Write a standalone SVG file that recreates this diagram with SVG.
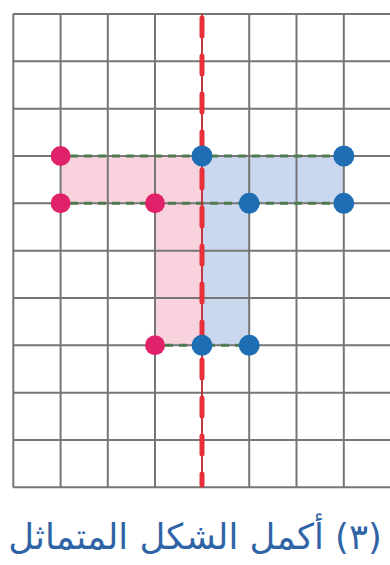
<svg xmlns="http://www.w3.org/2000/svg" width="390" height="565" viewBox="0 0 390 565">
<style>
.grid line{stroke:#767676;stroke-width:2}
.pink{fill:#f8d3de}
.blue{fill:#c9d8ee}
.gd{stroke:#4f7a4f;stroke-width:3;stroke-dasharray:8 6;fill:none}
.pd{fill:#e0226a}
.bd{fill:#1f6db3}
.axis{stroke:#d9262f;stroke-width:1.5}
.axisd{stroke:#e8303a;stroke-width:5;stroke-dasharray:18 20;stroke-linecap:round}
.cap{font-family:"DejaVu Sans",sans-serif;font-size:35.5px;fill:#2e63a6}
</style>
<rect width="390" height="565" fill="#fff"/>
<g id="shapes">
<path class="pink" d="M60,156H202V345H155V203H60Z"/>
<path class="blue" d="M202,156H343V203H249V345H202Z"/>
</g>
<g class="grid" id="grid">
<line x1="13" y1="14" x2="390" y2="14"/>
<line x1="13" y1="61.3" x2="390" y2="61.3"/>
<line x1="13" y1="108.7" x2="390" y2="108.7"/>
<line x1="13" y1="156" x2="390" y2="156"/>
<line x1="13" y1="203.3" x2="390" y2="203.3"/>
<line x1="13" y1="250.7" x2="390" y2="250.7"/>
<line x1="13" y1="298" x2="390" y2="298"/>
<line x1="13" y1="345.3" x2="390" y2="345.3"/>
<line x1="13" y1="392.7" x2="390" y2="392.7"/>
<line x1="13" y1="440" x2="390" y2="440"/>
<line x1="13" y1="487.3" x2="390" y2="487.3"/>
<line x1="13.3" y1="14" x2="13.3" y2="487.3"/>
<line x1="60.6" y1="14" x2="60.6" y2="487.3"/>
<line x1="107.8" y1="14" x2="107.8" y2="487.3"/>
<line x1="155" y1="14" x2="155" y2="487.3"/>
<line x1="202" y1="14" x2="202" y2="487.3"/>
<line x1="249.2" y1="14" x2="249.2" y2="487.3"/>
<line x1="296.5" y1="14" x2="296.5" y2="487.3"/>
<line x1="343.8" y1="14" x2="343.8" y2="487.3"/>
</g>
<g id="connectors">
<line class="gd" x1="70" y1="156" x2="335" y2="156"/>
<line class="gd" x1="70" y1="203.3" x2="335" y2="203.3"/>
<line class="gd" x1="165" y1="345.3" x2="240" y2="345.3"/>
<line class="axis" x1="202" y1="14" x2="202" y2="487"/>
<line class="axisd" x1="202" y1="18" x2="202" y2="485"/>
</g>
<g id="pink-points">
<circle class="pd" cx="60.6" cy="156" r="10"/>
<circle class="pd" cx="60.6" cy="203.3" r="10"/>
<circle class="pd" cx="155" cy="203.3" r="10"/>
<circle class="pd" cx="155" cy="345.3" r="10"/>
</g>
<g id="blue-points">
<circle class="bd" cx="202" cy="156" r="10.5"/>
<circle class="bd" cx="343.8" cy="156" r="10.5"/>
<circle class="bd" cx="249.2" cy="203.3" r="10.5"/>
<circle class="bd" cx="343.8" cy="203.3" r="10.5"/>
<circle class="bd" cx="202" cy="345.3" r="10.5"/>
<circle class="bd" cx="249.2" cy="345.3" r="10.5"/>
</g>
<g id="caption">
<text class="cap" x="195" y="549" text-anchor="middle" direction="rtl">(٣) أكمل الشكل المتماثل</text>
</g>
</svg>
